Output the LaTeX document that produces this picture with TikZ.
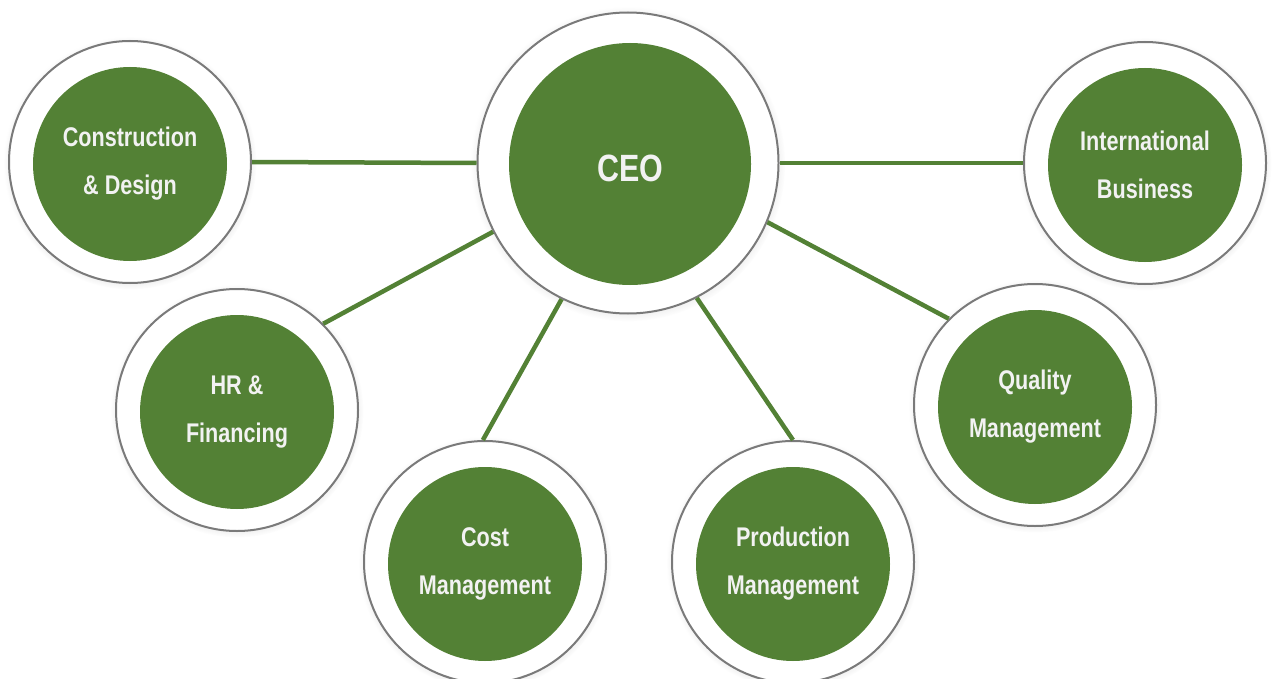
\documentclass[tikz,border=0pt]{standalone}
\usepackage{fontspec}
\newfontfamily\labelfont[FakeStretch=0.8]{Liberation Sans Bold}
\usetikzlibrary{shadows}
\definecolor{leaf}{HTML}{538135}
\definecolor{rim}{HTML}{7A7A7A}
\definecolor{chalk}{HTML}{F2F2F2}
\begin{document}
\begin{tikzpicture}[x=1pt, y=-1pt, font=\labelfont\fontsize{27}{48}\selectfont,
	ring/.style={circle, draw=rim, line width=2pt, fill=white, inner sep=0pt,
		circular drop shadow={shadow xshift=0pt, shadow yshift=-1pt, shadow scale=1.045, opacity=0.3}},
	disk/.style={circle, fill=leaf, text=chalk, align=center, inner sep=0pt},
	link/.style={leaf, line width=4.5pt}]
	\useasboundingbox (0,0) rectangle (1274,679);
	\node[ring, minimum size=301] (ceo) at (628,163) {};
	\node[disk, minimum size=242, font=\labelfont\fontsize{38}{40}\selectfont] (ceoDisk) at (630,164) {\raisebox{-4pt}[\height][\depth]{CEO}};
	\foreach \n/\x/\y/\t in {cd/130/162/{Construction\\\& Design}, ib/1145/163/{International\\Business},
		hr/237/410/{HR \&\\Financing}, cm/485/562/{Cost\\Management},
		pm/793/562/{Production\\Management}, qm/1035/405/{Quality\\Management}}{
		\node[ring, minimum size=242] (\n) at (\x,\y) {};
		\node[disk, minimum size=194, yshift=-2pt] (\n Disk) at (\n) {\t};
	}
	% connectors from CEO to each department
	\foreach \a/\b in {ceo.180/cd.0, ceo.0/ib.180, ceo.207/hr.45, ceo.244/cm.91, ceo.297/pm.90, ceo.337/qm.135}{
		\draw[link] (\a) -- (\b);
	}
\end{tikzpicture}
\end{document}
